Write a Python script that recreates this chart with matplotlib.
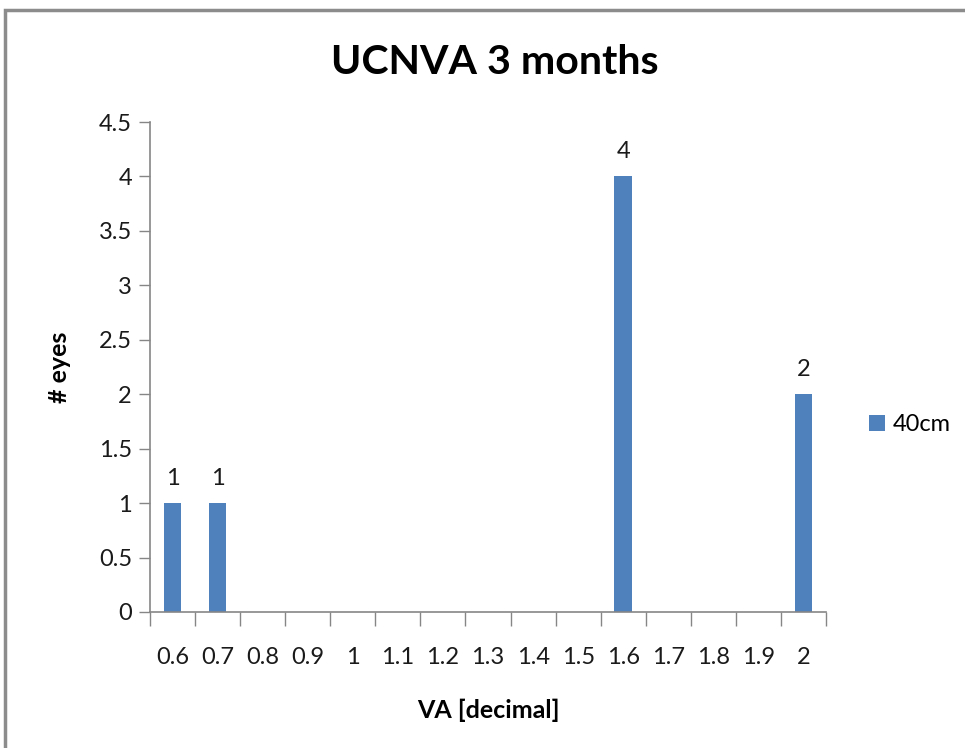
import matplotlib.pyplot as plt
from matplotlib.patches import Rectangle

# Data
categories = ['0.6', '0.7', '0.8', '0.9', '1', '1.1', '1.2', '1.3', '1.4', '1.5',
              '1.6', '1.7', '1.8', '1.9', '2']
eyes_40cm = [1, 1, 0, 0, 0, 0, 0, 0, 0, 0, 4, 0, 0, 0, 2]
y_ticks = [0, 0.5, 1, 1.5, 2, 2.5, 3, 3.5, 4, 4.5]
y_tick_labels = ['0', '0.5', '1', '1.5', '2', '2.5', '3', '3.5', '4', '4.5']

plt.rcParams['font.family'] = ['Lato', 'DejaVu Sans']
bar_color = '#4F81BD'
axis_color = '#868686'
text_color = '#1a1a1a'

fig = plt.figure(figsize=(9.65, 7.48), dpi=100)
ax = fig.add_axes([150 / 965, 1 - 612 / 748, 676 / 965, 490 / 748])

x = list(range(len(categories)))
bars = ax.bar(x, eyes_40cm, width=0.39, color=bar_color, label='40cm', zorder=2)

# value labels on non-zero bars
for xi, v in zip(x, eyes_40cm):
    if v > 0:
        ax.text(xi, v + 0.13, str(v), ha='center', va='bottom', fontsize=17, color=text_color)

ax.set_xlim(-0.5, len(categories) - 0.5)
ax.set_ylim(0, 4.5)
ax.set_yticks(y_ticks)
ax.set_yticklabels(y_tick_labels)
ax.set_xticks(x)
ax.set_xticklabels(categories)
ax.set_xticks([i - 0.5 for i in range(len(categories) + 1)], minor=True)

ax.tick_params(axis='y', direction='out', length=8, width=1, color=axis_color,
               labelsize=17, labelcolor=text_color, pad=5)
ax.tick_params(axis='x', which='major', length=0, labelsize=17, labelcolor=text_color, pad=25)
ax.tick_params(axis='x', which='minor', direction='out', length=10, width=1, color=axis_color)

for side in ['top', 'right']:
    ax.spines[side].set_visible(False)
for side in ['left', 'bottom']:
    ax.spines[side].set_color(axis_color)
    ax.spines[side].set_linewidth(1.2)

ax.set_xlabel('VA [decimal]', fontsize=18, fontweight='bold', labelpad=22)
ax.set_ylabel('# eyes', fontsize=18, fontweight='bold', labelpad=20)

fig.text(495 / 965, 1 - 62 / 748, 'UCNVA 3 months', ha='center', va='center',
         fontsize=29.5, fontweight='bold')

ax.legend(loc='center left', bbox_to_anchor=(1.032, 0.382), frameon=False,
          fontsize=17, handlelength=0.7, handleheight=0.7, handletextpad=0.3)

# outer chart frame (cut off at right and bottom)
fig.patches.append(Rectangle((4.5 / 965, -0.1), 1.2, 1.1 - 10 / 748,
                             transform=fig.transFigure, fill=False,
                             edgecolor='#8c8c8c', linewidth=2.5))

fig.savefig('out.png', dpi=100)
